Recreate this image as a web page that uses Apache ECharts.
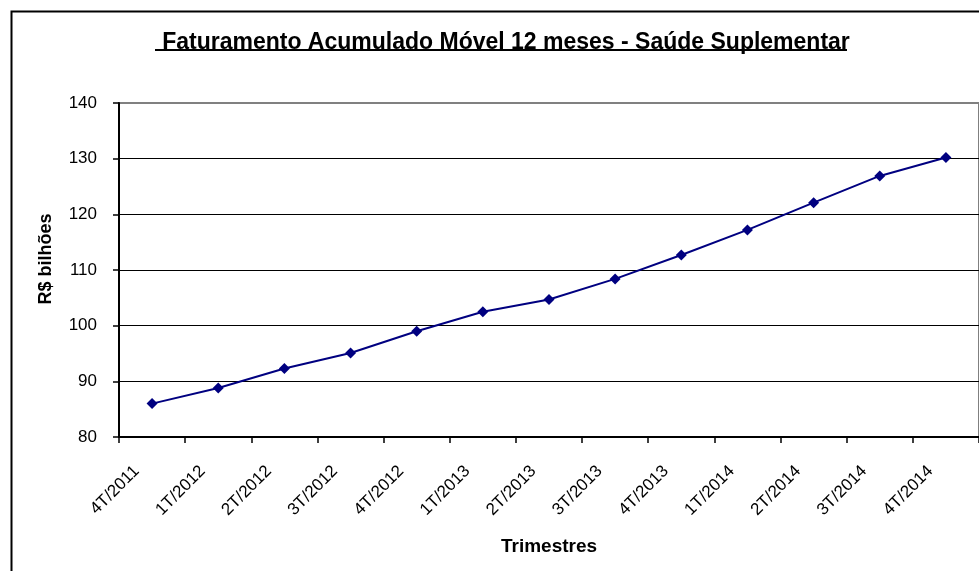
<!DOCTYPE html>
<html>
<head>
<meta charset="utf-8">
<script src="https://cdn.jsdelivr.net/npm/echarts@6/dist/echarts.min.js"></script>
<style>
  html, body { margin: 0; padding: 0; background: #fff; }
  #chart { width: 979px; height: 571px; }
</style>
</head>
<body>
<div id="chart"></div>
<script>
// dados
var trimestres = ['4T/2011', '1T/2012', '2T/2012', '3T/2012', '4T/2012', '1T/2013', '2T/2013',
  '3T/2013', '4T/2013', '1T/2014', '2T/2014', '3T/2014', '4T/2014'];
var faturamento = [86.0, 88.8, 92.3, 95.1, 99.0, 102.5, 104.7, 108.4, 112.7, 117.2, 122.1, 126.9, 130.2];
var yMin = 80, yMax = 140, yStep = 10;

var fonte = 'Liberation Sans, Arial, sans-serif';
var myChart = echarts.init(document.getElementById('chart'));

myChart.setOption({
  animation: false,
  title: {
    text: 'Faturamento Acumulado Móvel 12 meses - Saúde Suplementar',
    left: 501,
    top: 26,
    textAlign: 'center',
    textStyle: { fontFamily: fonte, fontSize: 23, fontWeight: 'bold', color: '#000' }
  },
  graphic: [
    // moldura do gráfico
    { type: 'rect', left: 9, top: 9, shape: { width: 1000, height: 600 },
      style: { fill: 'none', stroke: '#000', lineWidth: 2 }, silent: true },
    // sublinhado do título
    { type: 'rect', left: 155, top: 49, shape: { width: 692, height: 2 },
      style: { fill: '#000' }, silent: true }
  ],
  grid: {
    left: 119, right: 0, top: 103, bottom: 134,
    show: true, borderColor: '#808080', borderWidth: 2
  },
  xAxis: {
    type: 'category',
    data: trimestres,
    boundaryGap: true,
    name: 'Trimestres',
    nameLocation: 'middle',
    nameGap: 100,
    nameTextStyle: { fontFamily: fonte, fontSize: 19, fontWeight: 'bold', color: '#000' },
    axisLine: { lineStyle: { color: '#000', width: 2 } },
    axisTick: { show: true, length: 6, lineStyle: { color: '#000', width: 1.5 } },
    axisLabel: {
      rotate: 45, margin: 16, padding: [0, 22, 0, 0],
      fontFamily: fonte, fontSize: 17, color: '#000', interval: 0
    },
    splitLine: { show: false }
  },
  yAxis: {
    type: 'value',
    min: yMin, max: yMax, interval: yStep,
    name: 'R$ bilhões',
    nameLocation: 'middle',
    nameGap: 64,
    nameTextStyle: { fontFamily: fonte, fontSize: 18, fontWeight: 'bold', color: '#000',
      padding: [0, 0, 0, 22] },
    axisLine: { show: true, lineStyle: { color: '#000', width: 2 } },
    axisTick: { show: true, length: 6, lineStyle: { color: '#000', width: 1.5 } },
    axisLabel: { margin: 22, fontFamily: fonte, fontSize: 17, color: '#000' },
    splitLine: { show: true, showMaxLine: false, lineStyle: { color: '#000', width: 1 } }
  },
  series: [
    {
      name: 'Faturamento',
      type: 'line',
      data: faturamento,
      symbol: 'diamond',
      symbolSize: [11, 11],
      lineStyle: { color: '#000080', width: 2 },
      itemStyle: { color: '#000080' }
    }
  ]
});
</script>
</body>
</html>
